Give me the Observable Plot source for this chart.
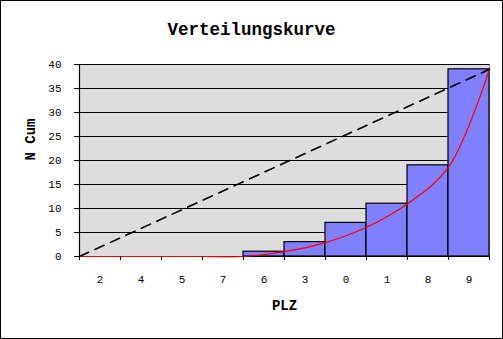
<!DOCTYPE html>
<html>
<head>
<meta charset="utf-8">
<script src="https://cdn.jsdelivr.net/npm/d3@7"></script>
<script src="https://cdn.jsdelivr.net/npm/@observablehq/plot@0.6"></script>
<style>
  html, body { margin: 0; padding: 0; background: #fff; }
  #wrap { position: relative; width: 503px; height: 339px; overflow: hidden; background: #fff; }
  #wrap svg { position: absolute; left: 0; top: 0; }
  #title { position: absolute; left: 0; width: 503px; top: 20px; text-align: center;
           font-family: "Liberation Mono", monospace; font-weight: bold; font-size: 17.5px; color: #000; }
  #border { position: absolute; left: 0; top: 0; width: 503px; height: 339px; box-sizing: border-box;
            border: 1px solid #000; pointer-events: none; }
</style>
</head>
<body>
<div id="wrap"><div id="title">Verteilungskurve</div><div id="border"></div></div>
<script>
// Data
const categories = ["2", "4", "5", "7", "6", "3", "0", "1", "8", "9"];
const values = [0, 0, 0, 0, 1, 3, 7, 11, 19, 39];
// smoothed cumulative curve, read at the bin boundaries
const curveX = [0, 1, 2, 3, 4, 5, 6, 7, 8, 9, 10];
const curveY = [0, 0, 0, 0, 0, 1, 2.9, 6.1, 11, 18.6, 39];
// dashed linear reference line
const trendX = [0, 10];
const trendY = [0, 39];
const yTicks = [0, 5, 10, 15, 20, 25, 30, 35, 40];

const bars = categories.map((c, i) => ({cat: c, i, v: values[i]}));
const curve = curveX.map((x, i) => ({x, y: curveY[i]}));
const trend = trendX.map((x, i) => ({x, y: trendY[i]}));
const boundaries = d3.range(0, categories.length + 1);
const centers = categories.map((c, i) => i + 0.5);

const font = "Liberation Mono, monospace";

const chart = Plot.plot({
  width: 503,
  height: 339,
  marginLeft: 79,
  marginRight: 14,
  marginTop: 64,
  marginBottom: 83,
  style: {fontFamily: font, fontSize: "11px", background: "transparent", color: "#000"},
  x: {domain: [0, categories.length], axis: null},
  y: {domain: [0, 40], axis: null},
  marks: [
    Plot.frame({fill: "#dddddd", stroke: "#808080"}),
    Plot.gridY(yTicks, {stroke: "#000", strokeOpacity: 1}),
    Plot.rectY(bars, {x1: d => d.i, x2: d => d.i + 1, y: "v", fill: "#8080ff", stroke: "#000", strokeWidth: 1.2}),
    Plot.ruleY([0], {stroke: "#000", strokeWidth: 1.2}),
    Plot.ruleX([0], {stroke: "#000", strokeWidth: 1.2}),
    Plot.line(curve, {x: "x", y: "y", stroke: "red", strokeWidth: 1.2, curve: "catmull-rom"}),
    Plot.line(trend, {x: "x", y: "y", stroke: "#000", strokeWidth: 1.6, strokeDasharray: "10,7"}),
    Plot.axisY({ticks: yTicks, tickSize: 5, tickPadding: 13, label: null, fontSize: 11, stroke: "#000"}),
    Plot.axisX({ticks: boundaries, tickSize: 4, tickFormat: () => "", label: null}),
    Plot.axisX({ticks: centers, tickSize: 0, tickPadding: 19, tickFormat: d => categories[Math.floor(d)], label: null, fontSize: 11}),
    Plot.text(["N Cum"], {frameAnchor: "left", dx: -49, rotate: -90, fontWeight: "bold", fontSize: 14, fill: "#000"}),
    Plot.text(["PLZ"], {frameAnchor: "bottom", dy: 53, fontWeight: "bold", fontSize: 14, fill: "#000"})
  ]
});
document.getElementById("wrap").insertBefore(chart, document.getElementById("title"));
</script>
</body>
</html>
